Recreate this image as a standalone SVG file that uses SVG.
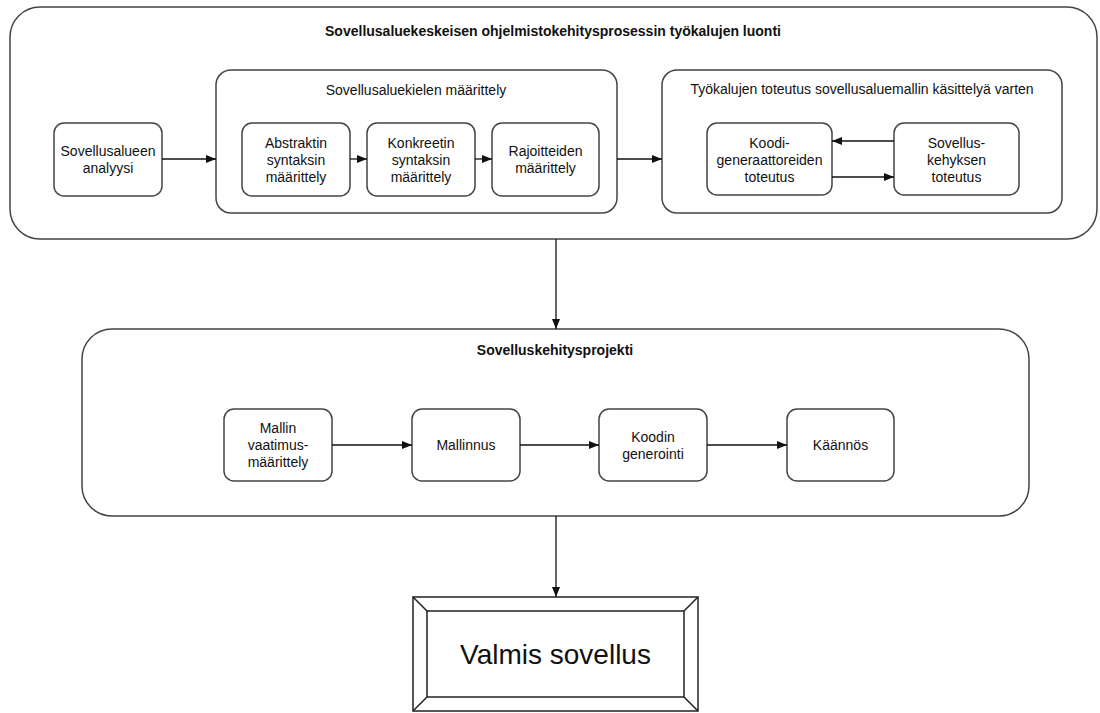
<svg xmlns="http://www.w3.org/2000/svg" width="1100" height="713" viewBox="0 0 1100 713">
<style>
.box{fill:#fff;stroke:#444;stroke-width:1.5}
.bev{fill:none;stroke:#222;stroke-width:1.5}
.t{font-family:"Liberation Sans",Arial,sans-serif;font-size:14px;fill:#111;text-anchor:middle}
.b{font-weight:bold}
.big{font-size:28px}
.c{fill:none;stroke:#111;stroke-width:1.3}
</style>
<defs>
<marker id="ah" markerUnits="userSpaceOnUse" markerWidth="10" markerHeight="10" viewBox="0 0 10 10" refX="10" refY="5" orient="auto">
<path d="M0,1 L10,5 L0,9 Z" fill="#111"/>
</marker>
</defs>
<rect width="1100" height="713" fill="#fff"/>

<g id="tool-creation">
<rect class="box" x="10" y="7" width="1087" height="232" rx="30"/>
<text class="t b" x="553" y="36">Sovellusaluekeskeisen ohjelmistokehitysprosessin työkalujen luonti</text>
</g>
<g id="domain-analysis">
<rect class="box" x="54" y="123" width="108" height="73" rx="10"/>
<text class="t" x="108" y="156">Sovellusalueen</text>
<text class="t" x="108" y="173">analyysi</text>
</g>
<g id="language-definition">
<rect class="box" x="216" y="70" width="401" height="143" rx="15"/>
<text class="t" x="416" y="95">Sovellusaluekielen määrittely</text>
</g>
<g id="abstract-syntax">
<rect class="box" x="242" y="123" width="108" height="73" rx="10"/>
<text class="t" x="296" y="148">Abstraktin</text>
<text class="t" x="296" y="165">syntaksin</text>
<text class="t" x="296" y="182">määrittely</text>
</g>
<g id="concrete-syntax">
<rect class="box" x="367" y="123" width="108" height="73" rx="10"/>
<text class="t" x="421" y="148">Konkreetin</text>
<text class="t" x="421" y="165">syntaksin</text>
<text class="t" x="421" y="182">määrittely</text>
</g>
<g id="constraints">
<rect class="box" x="492" y="123" width="107" height="73" rx="10"/>
<text class="t" x="545.5" y="156">Rajoitteiden</text>
<text class="t" x="545.5" y="173">määrittely</text>
</g>
<g id="tool-implementation">
<rect class="box" x="662" y="70" width="400" height="143" rx="15"/>
<text class="t" x="862" y="94">Työkalujen toteutus sovellusaluemallin käsittelyä varten</text>
</g>
<g id="code-generators">
<rect class="box" x="707" y="123" width="125" height="72" rx="10"/>
<text class="t" x="769.5" y="148">Koodi-</text>
<text class="t" x="769.5" y="165">generaattoreiden</text>
<text class="t" x="769.5" y="182">toteutus</text>
</g>
<g id="framework">
<rect class="box" x="894" y="123" width="125" height="72" rx="10"/>
<text class="t" x="956.5" y="148">Sovellus-</text>
<text class="t" x="956.5" y="165">kehyksen</text>
<text class="t" x="956.5" y="182">toteutus</text>
</g>

<g id="dev-project">
<rect class="box" x="82" y="329" width="947" height="187" rx="30"/>
<text class="t b" x="555" y="355">Sovelluskehitysprojekti</text>
</g>
<g id="requirements">
<rect class="box" x="224" y="409" width="108" height="72" rx="10"/>
<text class="t" x="278" y="433">Mallin</text>
<text class="t" x="278" y="450">vaatimus-</text>
<text class="t" x="278" y="467">määrittely</text>
</g>
<g id="modelling">
<rect class="box" x="412" y="409" width="108" height="72" rx="10"/>
<text class="t" x="466" y="450">Mallinnus</text>
</g>
<g id="code-generation">
<rect class="box" x="599" y="409" width="108" height="72" rx="10"/>
<text class="t" x="653" y="441.5">Koodin</text>
<text class="t" x="653" y="458.5">generointi</text>
</g>
<g id="compilation">
<rect class="box" x="787" y="409" width="107" height="72" rx="10"/>
<text class="t" x="840.5" y="450">Käännös</text>
</g>

<g id="finished-app">
<rect x="413" y="597" width="285" height="114" fill="#fff" class="bev"/>
<rect x="427" y="611" width="257" height="86" class="bev"/>
<path class="bev" d="M413,597 L427,611 M698,597 L684,611 M413,711 L427,697 M698,711 L684,697" stroke-width="1"/>
<text class="t big" x="555.5" y="664">Valmis sovellus</text>
</g>

<g id="connectors">
<line class="c" x1="162" y1="159" x2="216" y2="159" marker-end="url(#ah)"/>
<line class="c" x1="350" y1="159" x2="367" y2="159" marker-end="url(#ah)"/>
<line class="c" x1="475" y1="159" x2="492" y2="159" marker-end="url(#ah)"/>
<line class="c" x1="617" y1="159" x2="662" y2="159" marker-end="url(#ah)"/>
<line class="c" x1="894" y1="141" x2="832" y2="141" marker-end="url(#ah)"/>
<line class="c" x1="832" y1="177" x2="894" y2="177" marker-end="url(#ah)"/>
<line class="c" x1="556" y1="239" x2="556" y2="329" marker-end="url(#ah)"/>
<line class="c" x1="332" y1="445" x2="412" y2="445" marker-end="url(#ah)"/>
<line class="c" x1="520" y1="445" x2="599" y2="445" marker-end="url(#ah)"/>
<line class="c" x1="707" y1="445" x2="787" y2="445" marker-end="url(#ah)"/>
<line class="c" x1="556" y1="516" x2="556" y2="597" marker-end="url(#ah)"/>
</g>
</svg>
